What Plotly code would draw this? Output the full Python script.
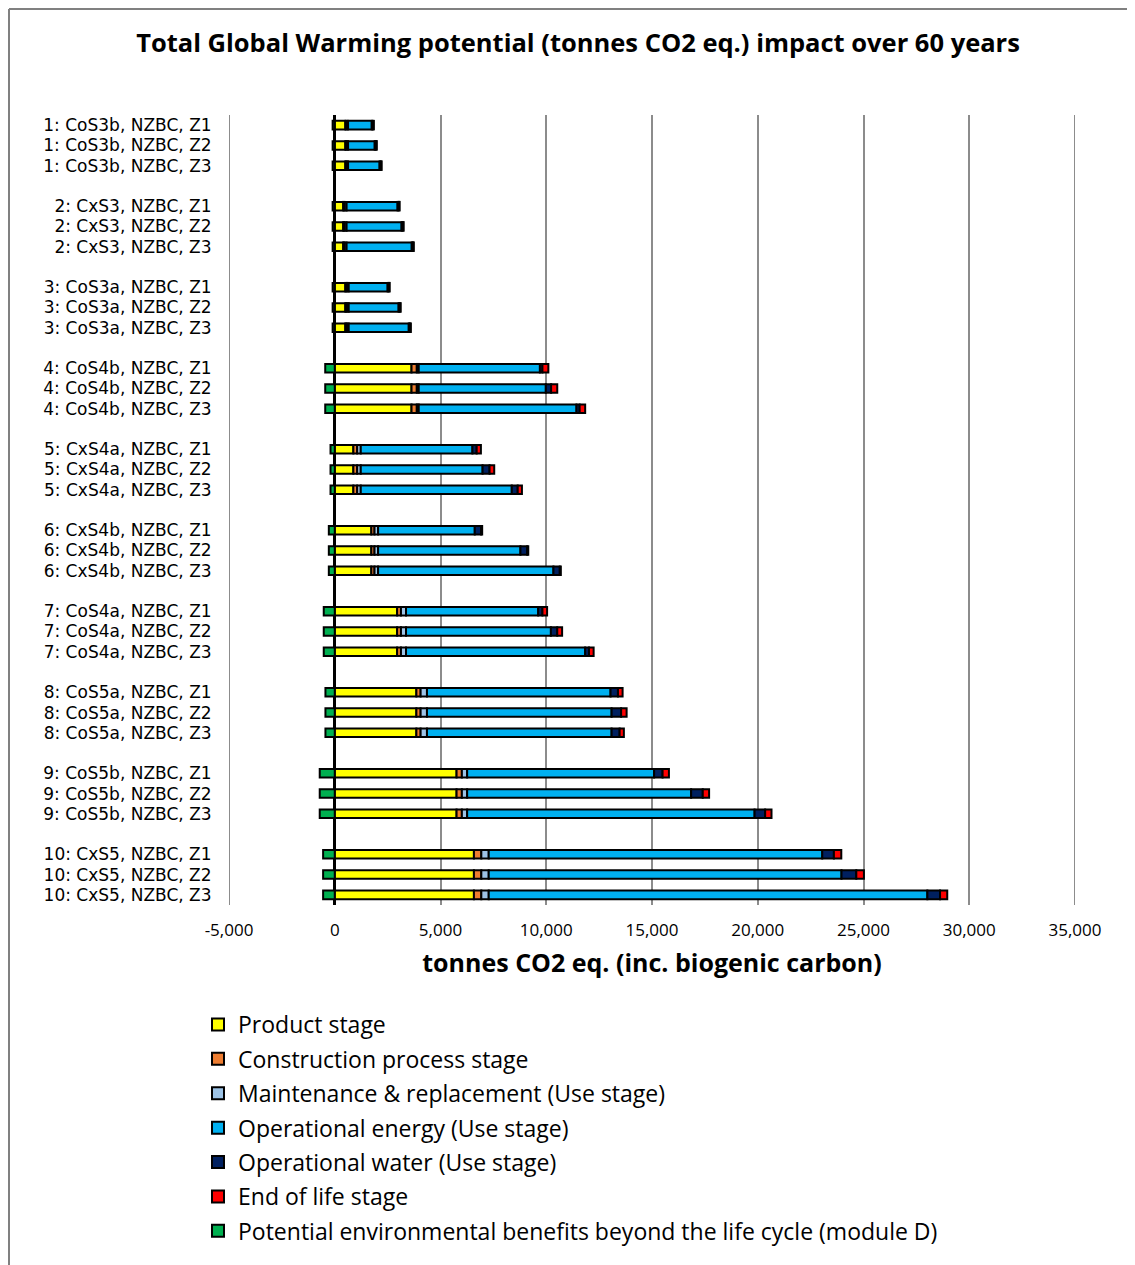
import plotly.graph_objects as go

# ---------------- data ----------------
buildings = ["1: CoS3b", "2: CxS3", "3: CoS3a", "4: CoS4b", "5: CxS4a",
             "6: CxS4b", "7: CoS4a", "8: CoS5a", "9: CoS5b", "10: CxS5"]
zones = ["Z1", "Z2", "Z3"]

# per building (same for all zones)
product      = [500, 400, 500, 3630, 880, 1730, 2950, 3860, 5760, 6580]
construction = [50, 60, 70, 250, 180, 150, 180, 200, 250, 350]
maintenance  = [80, 100, 90, 90, 170, 170, 240, 300, 250, 350]
module_d     = [-100, -100, -100, -450, -200, -280, -520, -440, -710, -550]

# per building and zone (Z1, Z2, Z3)
op_energy = [
    [1120, 1260, 1490],
    [2410, 2600, 3080],
    [1840, 2360, 2840],
    [5730, 6010, 7460],
    [5280, 5760, 7140],
    [4570, 6730, 8290],
    [6250, 6850, 8470],
    [8680, 8730, 8730],
    [8840, 10590, 13590],
    [15770, 16680, 20740],
]
op_water = [
    [60, 60, 60],
    [60, 60, 60],
    [60, 60, 60],
    [120, 250, 150],
    [200, 330, 280],
    [300, 320, 300],
    [200, 300, 180],
    [350, 450, 380],
    [400, 550, 500],
    [550, 700, 600],
]
end_of_life = [
    [40, 40, 40],
    [40, 40, 40],
    [40, 40, 40],
    [280, 290, 260],
    [200, 220, 200],
    [50, 50, 50],
    [220, 230, 220],
    [220, 260, 200],
    [300, 300, 300],
    [350, 360, 340],
]

series_names = [
    "Product stage",
    "Construction process stage",
    "Maintenance & replacement (Use stage)",
    "Operational energy (Use stage)",
    "Operational water (Use stage)",
    "End of life stage",
    "Potential environmental benefits beyond the life cycle (module D)",
]
series_colors = ["#FFFF00", "#ED7D31", "#9DC3E6", "#00B0F0", "#002060", "#FF0000", "#00B050"]

x_min, x_max = -5000, 35000
x_ticks = list(range(x_min, x_max + 1, 5000))

# ---------------- build rows ----------------
labels, pos = [], []
rows = {n: [] for n in series_names}
for g, b in enumerate(buildings):
    for z, zn in enumerate(zones):
        labels.append(f"{b}, NZBC, {zn}")
        pos.append(g * 4 + z)
        rows[series_names[0]].append(product[g])
        rows[series_names[1]].append(construction[g])
        rows[series_names[2]].append(maintenance[g])
        rows[series_names[3]].append(op_energy[g][z])
        rows[series_names[4]].append(op_water[g][z])
        rows[series_names[5]].append(end_of_life[g][z])
        rows[series_names[6]].append(module_d[g])

FONT = "Open Sans"
fig = go.Figure()
for i, (n, c) in enumerate(zip(series_names, series_colors)):
    fig.add_trace(go.Bar(
        y=pos, x=rows[n], orientation="h", name=n,
        marker=dict(color=c, line=dict(color="black", width=2)),
        legendgroup=f"g{i}",
    ))

# plot-area geometry (figure px; the page adds an 8px body margin)
W, H = 1135, 1265
L, R, T, B = 221, 68, 107, 368
pw, ph = W - L - R, H - T - B
def px_to_paper_x(px): return (px - L) / pw
def px_to_paper_y(py): return (H - B - py) / ph

GRID = "#8c8c8c"
frame = dict(color="#808080", width=2)
shapes = [
    dict(type="line", xref="paper", yref="paper",
         x0=px_to_paper_x(1), x1=px_to_paper_x(W), y0=px_to_paper_y(1), y1=px_to_paper_y(1),
         line=frame, layer="below"),
    dict(type="line", xref="paper", yref="paper",
         x0=px_to_paper_x(1), x1=px_to_paper_x(1), y0=px_to_paper_y(1), y1=px_to_paper_y(H),
         line=frame, layer="below"),
]
# edge gridlines (plotly skips gridlines exactly at the range ends)
for xv in (x_min, x_max):
    shapes.append(dict(type="line", xref="x", yref="paper", x0=xv, x1=xv, y0=0, y1=1,
                       line=dict(color=GRID, width=2), layer="below"))

fig.update_layout(
    width=W, height=H,
    margin=dict(l=L, r=R, t=T, b=B, pad=0, autoexpand=False),
    barmode="relative", bargap=0.58,
    paper_bgcolor="white", plot_bgcolor="white",
    font=dict(family=FONT, color="black", size=17),
    title=dict(text="<b>Total Global Warming potential (tonnes CO2 eq.) impact over 60 years</b>",
               x=570 / W, xanchor="center", y=1 - 35 / H, yanchor="middle",
               xref="container", yref="container",
               font=dict(family=FONT, size=25.5, color="black")),
    xaxis=dict(range=[x_min, x_max], tickvals=x_ticks,
               ticktext=[f"{v:,}" for v in x_ticks],
               showgrid=True, gridcolor=GRID, gridwidth=2,
               zeroline=True, zerolinecolor="black", zerolinewidth=3,
               ticks="outside", ticklen=10, tickcolor="rgba(0,0,0,0)",
               tickfont=dict(size=17),
               title=dict(text="<b>tonnes CO2 eq. (inc. biogenic carbon)</b>",
                          font=dict(size=25), standoff=14),
               fixedrange=True),
    yaxis=dict(range=[38.5, -0.5], tickvals=pos, ticktext=labels,
               showgrid=False, zeroline=False,
               ticks="outside", ticklen=13, tickcolor="rgba(0,0,0,0)",
               tickfont=dict(family="DejaVu Sans", size=17)),
    legend=dict(x=px_to_paper_x(190), y=px_to_paper_y(995), xanchor="left", yanchor="top",
                font=dict(size=23), tracegroupgap=1.5, traceorder="grouped",
                bgcolor="rgba(0,0,0,0)"),
    shapes=shapes,
)

fig.write_html("out.html")
